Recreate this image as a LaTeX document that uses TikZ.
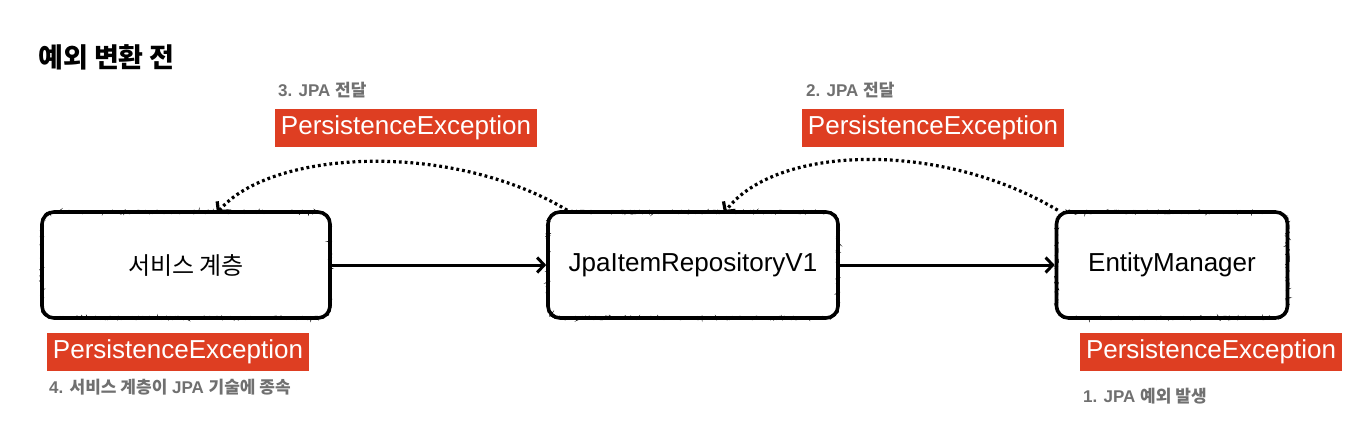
\documentclass[tikz,border=0pt]{standalone}
\usepackage{fontspec}
\setmainfont{Liberation Sans}
\newfontfamily\kr{Noto Sans CJK KR}
\usetikzlibrary{arrows.meta,decorations.pathmorphing}
\definecolor{exred}{RGB}{222,62,34}
\definecolor{notegray}{RGB}{112,112,112}
\tikzset{
  sketchbox/.style={draw=black, line width=3.6pt, rounded corners=12pt, fill=white,
    minimum height=106pt, inner sep=0pt, font=\fontsize{26}{28}\selectfont,
    postaction={draw=black, fill=none, sharp corners, line width=0.9pt, decorate, decoration={random steps, segment length=1.4pt, amplitude=1.8pt}}},
  exlabel/.style={fill=exred, text=white, minimum width=262pt, minimum height=38pt,
    inner sep=0pt, font=\fontsize{26}{28}\selectfont},
  note/.style={text=notegray, font=\bfseries\fontsize{17}{20}\selectfont, inner sep=0pt, anchor=west},
  arrowline/.style={line width=3pt, -{Straight Barb[length=7pt,width=15pt]}},
  dotline/.style={line width=3.2pt, dash pattern=on 2.8pt off 3pt, -{Straight Barb[length=7pt,width=15pt,sep=0pt]}},
}
\begin{document}
\begin{tikzpicture}[x=1pt,y=-1pt]
\useasboundingbox (0,0) rectangle (1366,440);
\node[anchor=west, inner sep=0pt, font=\kr\bfseries\fontsize{27}{30}\selectfont] (title) at (38,57) {예외 변환 전};

\node[sketchbox, minimum width=288pt] (svc) at (186,265) {\kr\fontsize{24}{28}\selectfont 서비스 계층};
\node[sketchbox, minimum width=290pt] (repo) at (693,265) {JpaItemRepositoryV1};
\node[sketchbox, minimum width=231pt] (em) at (1172,265) {EntityManager};

\draw[arrowline] (svc.east) -- (repo.west);
\draw[arrowline] (repo.east) -- (em.west);

\coordinate (repoTL) at ([xshift=21pt]repo.north west);
\coordinate (emTL) at ([xshift=3pt]em.north west);
\coordinate (svcIn) at ([shift={(31pt,-3pt)}]svc.north);
\coordinate (repoIn) at ([shift={(31pt,-3pt)}]repo.north);
\draw[dotline] (repoTL) .. controls (450,140) and (270,150) .. (svcIn);
\draw[dotline] (emTL) .. controls (940,140) and (775,145) .. (repoIn);

\node[exlabel] (ex3) at (406,128) {PersistenceException};
\node[exlabel] (ex2) at (933,128) {PersistenceException};
\node[exlabel] (ex4) at (178,351.5) {PersistenceException};
\node[exlabel] (ex1) at (1211,351.5) {PersistenceException};

\node[note] (n3) at (278,90) {3. JPA {\kr 전달}};
\node[note] (n2) at (806,90) {2. JPA {\kr 전달}};
\node[note] (n4) at (49,387) {4. {\kr 서비스 계층이} JPA {\kr 기술에 종속}};
\node[note] (n1) at (1083,396) {1. JPA {\kr 예외 발생}};
\end{tikzpicture}
\end{document}
